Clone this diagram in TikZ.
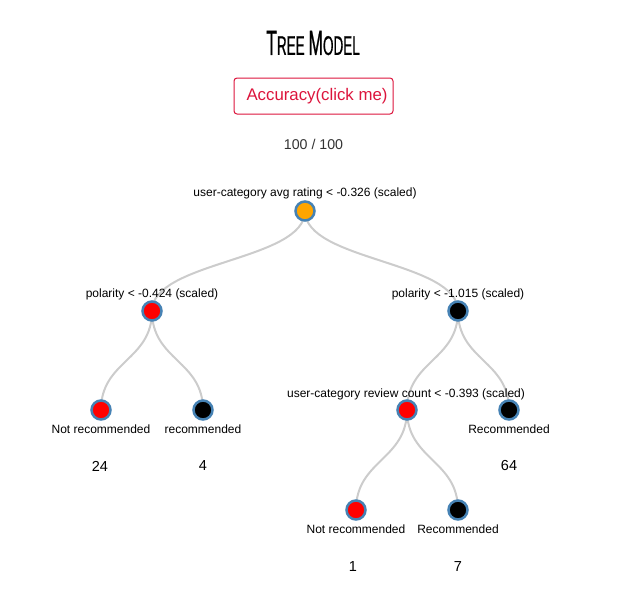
\documentclass[tikz,border=0pt]{standalone}
\usepackage{fontspec}
\setmainfont{Liberation Sans}
\newfontfamily\titlefont[FakeStretch=0.5,FakeBold=0.6]{Liberation Sans}
\usetikzlibrary{calc}
\definecolor{steel}{HTML}{4682B4}
\definecolor{linkgray}{HTML}{CCCCCC}
\definecolor{btnred}{HTML}{DC143C}
\definecolor{txtgray}{HTML}{333333}
\definecolor{orangefill}{HTML}{FFA500}
\tikzset{
  treenode/.style={circle, draw=steel, line width=2.5pt, minimum size=19pt, inner sep=0pt},
  lbl/.style={font=\fontsize{12}{14}\selectfont, inner sep=0pt},
  cnt/.style={font=\fontsize{14.5}{16}\selectfont, inner sep=0pt},
  link/.style={draw=linkgray, line width=2pt},
}
\newcommand{\diaglink}[2]{\draw[link] (#1) .. controls ($(#1)!0.5!(#1 |- #2)$) and ($(#2)!0.5!(#2 |- #1)$) .. (#2);}
\begin{document}
\begin{tikzpicture}[x=1pt,y=-1pt]
\useasboundingbox (0,0) rectangle (620,594);
% title
\node[inner sep=0pt, font=\titlefont] (title) at (313,43) {{\fontsize{35}{35}\selectfont T}{\fontsize{27}{27}\selectfont REE }{\fontsize{35}{35}\selectfont M}{\fontsize{27}{27}\selectfont ODEL}};
% button
\node[draw=btnred, line width=1pt, rounded corners=3pt, minimum width=159pt, minimum height=36pt, inner sep=0pt] (btn) at (313.5,96) {};
\node[text=btnred, inner sep=0pt, font=\fontsize{16.8}{18}\selectfont] (btntext) at (317,96) {Accuracy(click me)};
\node[inner sep=0pt, text=txtgray, font=\fontsize{14.2}{16}\selectfont] (acc) at (313.5,144) {100 / 100};
% node positions
\coordinate (p0) at (305,211);
\coordinate (p1) at (152,311);
\coordinate (p2) at (458,311);
\coordinate (p3) at (101,410);
\coordinate (p4) at (203,410);
\coordinate (p5) at (407,410);
\coordinate (p6) at (509,410);
\coordinate (p7) at (356,510);
\coordinate (p8) at (458,510);
% links
\diaglink{p0}{p1}
\diaglink{p0}{p2}
\diaglink{p1}{p3}
\diaglink{p1}{p4}
\diaglink{p2}{p5}
\diaglink{p2}{p6}
\diaglink{p5}{p7}
\diaglink{p5}{p8}
% nodes
\node[treenode, fill=orangefill] (n0) at (p0) {};
\node[treenode, fill=red] (n1) at (p1) {};
\node[treenode, fill=black] (n2) at (p2) {};
\node[treenode, fill=red] (n3) at (p3) {};
\node[treenode, fill=black] (n4) at (p4) {};
\node[treenode, fill=red] (n5) at (p5) {};
\node[treenode, fill=black] (n6) at (p6) {};
\node[treenode, fill=red] (n7) at (p7) {};
\node[treenode, fill=black] (n8) at (p8) {};
% labels
\node[lbl] (l0) at (305,193) {user-category avg rating < -0.326 (scaled)};
\node[lbl] (l1) at (152,294.5) {polarity < -0.424 (scaled)};
\node[lbl] (l2) at (458,294.5) {polarity < -1.015 (scaled)};
\node[lbl] (l5) at (406,394) {user-category review count < -0.393 (scaled)};
\node[lbl] (l3) at (101,429) {Not recommended};
\node[lbl] (l4) at (203,429) {recommended};
\node[lbl] (l6) at (509,429) {Recommended};
\node[lbl] (l7) at (356,529) {Not recommended};
\node[lbl] (l8) at (458,529) {Recommended};
% counts
\node[cnt] (c3) at (100,466) {24};
\node[cnt] (c4) at (203,466) {4};
\node[cnt] (c6) at (509,466) {64};
\node[cnt] (c7) at (353,567) {1};
\node[cnt] (c8) at (458,567) {7};
\end{tikzpicture}
\end{document}
